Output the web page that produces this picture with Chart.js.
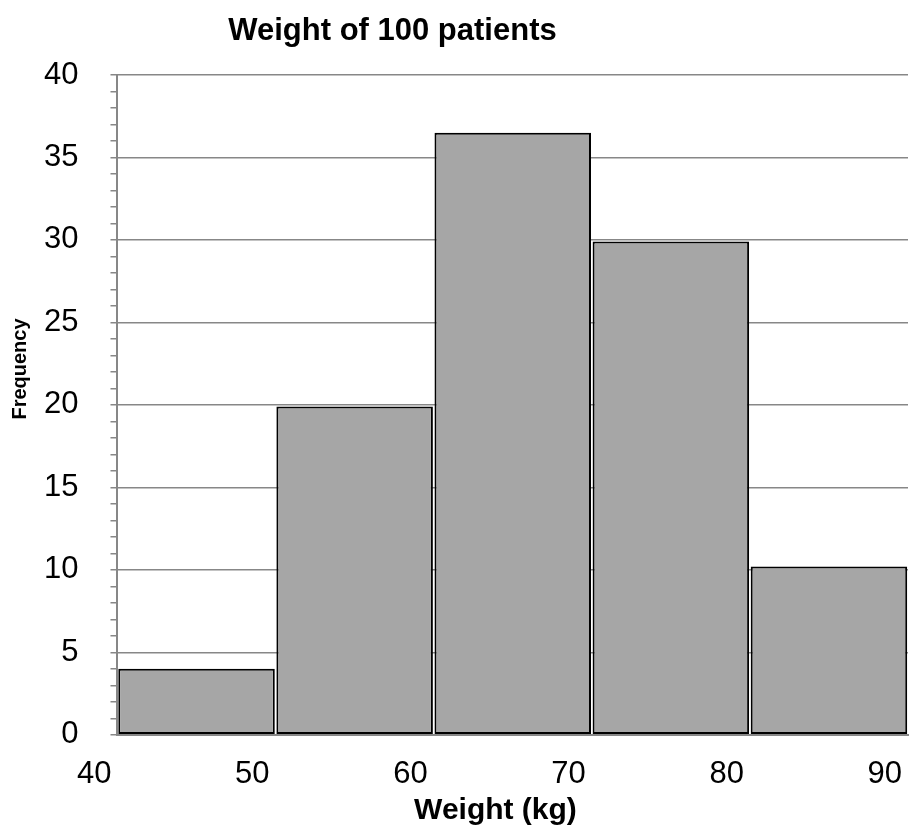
<!DOCTYPE html>
<html lang="en">
<head>
    <meta charset="UTF-8">
    <title>Weight of 100 patients</title>
    <script src="https://cdn.jsdelivr.net/npm/chart.js"></script>
    <style>
        html, body { margin: 0; padding: 0; background: #fff; }
        .wrap { width: 910px; height: 834px; }
    </style>
</head>
<body>
    <div class="wrap">
        <canvas id="histChart"></canvas>
    </div>

    <script>
        // histogram data
        const binEdges = [40, 50, 60, 70, 80, 90];
        const frequency = [4, 19.9, 36.5, 29.9, 10.2];
        const yTicks = [0, 5, 10, 15, 20, 25, 30, 35, 40];

        const chartTitle = 'Weight of 100 patients';
        const xTitle = 'Weight (kg)';
        const yTitle = 'Frequency';

        const gridGrey = '#878787';
        const fontFamily = '"Liberation Sans", Arial, sans-serif';

        // bars sit in the middle of each bin on a linear axis
        const barPoints = frequency.map((f, i) => ({
            x: (binEdges[i] + binEdges[i + 1]) / 2,
            y: f
        }));

        // titles are placed Excel-style, not centred on the plot
        const titlesPlugin = {
            id: 'excelTitles',
            afterDraw(chart) {
                const { ctx, chartArea } = chart;
                ctx.save();
                ctx.fillStyle = '#000';
                ctx.textAlign = 'center';

                ctx.font = 'bold 31px ' + fontFamily;
                ctx.textBaseline = 'alphabetic';
                ctx.fillText(chartTitle, chartArea.left + 275, chartArea.top - 35);

                ctx.font = 'bold 30px ' + fontFamily;
                ctx.fillText(xTitle, chartArea.left + 378, chartArea.bottom + 84);

                ctx.translate(chartArea.left - 97, chartArea.top + 294);
                ctx.rotate(-Math.PI / 2);
                ctx.font = 'bold 20px ' + fontFamily;
                ctx.textBaseline = 'middle';
                ctx.fillText(yTitle, 0, 0);
                ctx.restore();
            }
        };

        new Chart(document.getElementById('histChart'), {
            type: 'bar',
            data: {
                datasets: [{
                    label: 'Frequency',
                    data: barPoints,
                    backgroundColor: '#a6a6a6',
                    borderColor: '#000',
                    borderWidth: 2,
                    borderSkipped: false,
                    barPercentage: 0.99,
                    categoryPercentage: 1
                }]
            },
            options: {
                responsive: true,
                maintainAspectRatio: false,
                animation: false,
                layout: { padding: { top: 75, left: 12, right: 2, bottom: 20 } },
                plugins: {
                    legend: { display: false },
                    tooltip: { enabled: false },
                    title: { display: false }
                },
                scales: {
                    x: {
                        type: 'linear',
                        offset: false,
                        min: binEdges[0],
                        max: binEdges[binEdges.length - 1],
                        grid: { display: false, drawTicks: false },
                        border: { display: true, color: gridGrey, width: 2 },
                        ticks: {
                            stepSize: 10,
                            align: 'end',
                            labelOffset: -6,
                            padding: 21,
                            color: '#000',
                            font: { family: fontFamily, size: 31 }
                        },
                        // labels are shifted left on purpose, don't let them push the plot in
                        afterFit: scale => {
                            scale.paddingLeft = 0;
                            scale.paddingRight = 0;
                        }
                    },
                    y: {
                        min: yTicks[0],
                        max: yTicks[yTicks.length - 1],
                        grid: {
                            color: ctx => yTicks.includes(ctx.tick.value) ? gridGrey : 'rgba(0,0,0,0)',
                            tickColor: gridGrey,
                            tickLength: 7,
                            lineWidth: 1.5
                        },
                        border: { display: true, color: gridGrey, width: 2 },
                        ticks: {
                            stepSize: 1,
                            autoSkip: false,
                            padding: 32,
                            color: '#000',
                            font: { family: fontFamily, size: 31 },
                            callback: v => yTicks.includes(v) ? v : ''
                        }
                    }
                }
            },
            plugins: [titlesPlugin]
        });
    </script>
</body>
</html>
